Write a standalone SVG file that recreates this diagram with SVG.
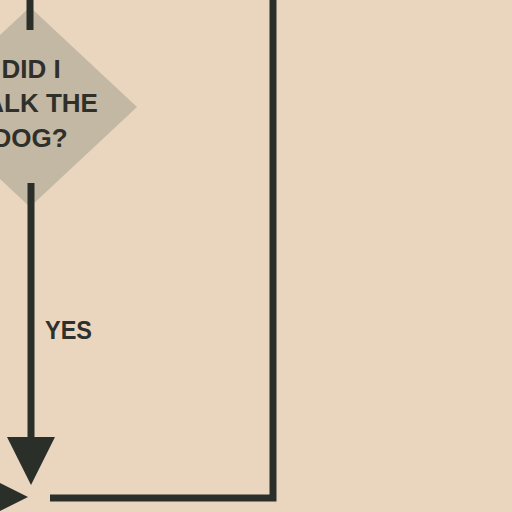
<svg xmlns="http://www.w3.org/2000/svg" width="512" height="512" viewBox="0 0 512 512">
  <style>
    .ln { stroke: #2b2f2a; stroke-width: 7; fill: none; stroke-linecap: butt; }
    .head { fill: #2b2f2a; }
    .txt { font-family: "Liberation Sans", Arial, sans-serif; font-weight: bold; font-size: 26px; fill: #2f302b; }
  </style>
  <rect width="512" height="512" fill="#ead6bf"/>
  <g id="decision">
    <polygon points="30,7 137,107 30,207 -77,107" fill="#c3b8a4"/>
    <text class="txt" x="31" y="78" text-anchor="middle">DID I</text>
    <text class="txt" x="30" y="112" text-anchor="middle">WALK THE</text>
    <text class="txt" x="30" y="147" text-anchor="middle">DOG?</text>
  </g>
  <g id="connectors">
    <line class="ln" x1="30" y1="0" x2="30" y2="30"/>
    <line class="ln" x1="31" y1="183" x2="31" y2="440"/>
    <polygon class="head" points="7,437 55,437 31,485"/>
    <text class="txt" x="45" y="339" textLength="47" lengthAdjust="spacingAndGlyphs">YES</text>
    <polyline class="ln" points="273,0 273,498 50,498"/>
    <polygon class="head" points="-20,473 28,497 -20,521"/>
  </g>
</svg>
